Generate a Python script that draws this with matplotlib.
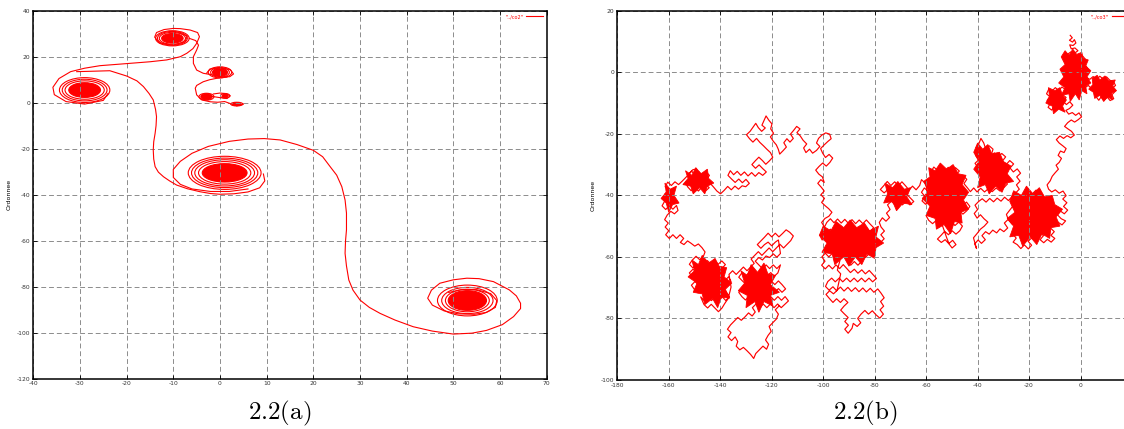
import matplotlib
matplotlib.use('Agg')
import matplotlib.pyplot as plt
from matplotlib.patches import Ellipse

plt.rcParams['mathtext.fontset'] = 'cm'
plt.rcParams['axes.unicode_minus'] = False

# ---- panel (a): vortex trajectories ----
vortex_x = [-29, -10.2, 0, -2.9, 1.1, 3.6, 1, 53]
vortex_y = [5.5, 28, 13.2, 2.6, 3.0, -0.6, -30.5, -86]
core_rx = [3.4, 2.3, 1.6, 1.2, 0.6, 0.9, 4.8, 4.1]
core_ry = [3.2, 2.1, 1.8, 1.3, 0.8, 0.6, 4.0, 4.3]
ring_rx = [[4.2, 4.8, 5.4], [2.8, 3.2, 3.6], [2.0, 2.5], [1.6], [1.0], [1.3],
           [5.6, 6.4, 7.1, 7.8], [4.7, 5.5, 6.4]]
ring_ry = [[4.0, 4.7, 5.4], [2.6, 3.0, 3.3], [2.1, 2.4], [1.5], [1.0], [0.8],
           [4.9, 5.7, 6.4, 7.2], [4.9, 5.7, 6.7]]

path_ab = [(-24, 4), (-25, 1), (-29, -0.6), (-33, 0.5), (-35.5, 3.5), (-35.8, 6.7),
           (-34.5, 10.5), (-32, 13.5), (-29, 15), (-25.7, 16.1), (-20, 17), (-15, 17.8),
           (-11.4, 18.6), (-8.5, 20), (-7.1, 21.5), (-5.8, 23.5), (-5, 25.8), (-4.4, 28.7),
           (-4.8, 30.5), (-6.4, 31.6), (-8.5, 32.2), (-10, 32.3), (-12, 31.8), (-13.6, 30.5),
           (-14, 28.5), (-13, 26), (-10, 25), (-7.5, 26.5), (-7, 29), (-9, 30.5)]
path_bc = [(-6.6, 28), (-5.2, 27), (-4.6, 25), (-5, 22.9), (-5.7, 20), (-5.7, 17.1),
           (-5, 14.2), (-3.6, 12.8), (-1.4, 12), (0.5, 11.2), (2.1, 11.3), (2.9, 12.5),
           (2.2, 14.4), (0, 15.2), (-2.2, 14.6), (-2.8, 13)]
path_cd = [(1.5, 11.2), (-0.7, 10.6), (-2.2, 10), (-3.6, 9.1), (-5, 7.5), (-5.3, 6.3),
           (-5, 3.4), (-3.9, 1.2), (-2.1, 0.4), (-0.5, 0.2), (1, 0.5), (2.5, -0.6), (3.6, -1.4),
           (5, -0.6)]
path_de = [(-1.4, 3.8), (0, 4.2), (1.1, 4), (2.2, 3), (1.5, 1.8), (0, 2.2), (-1.6, 2.7)]
path_af = [(-30.7, 13.5), (-27, 13.7), (-23.6, 13.9), (-20, 11.6), (-17.8, 9.5), (-16.4, 7),
           (-15.2, 4), (-14.3, 1.2), (-13.8, -3), (-13.6, -6.1), (-13.7, -10), (-13.9, -13.3),
           (-14.2, -17), (-14.3, -20.6), (-14.2, -24.5), (-13.9, -27.8), (-13.2, -30.2),
           (-12.1, -32.2), (-10.8, -34), (-9.3, -35.8), (-7, -37.4), (-4.3, -38.7), (-2, -39.5),
           (0, -39.8), (3, -39.6), (6, -38.8), (8.5, -37), (9.6, -34), (9.3, -31)]
path_fg = [(6, -37.5), (2, -38.6), (-2, -38.6), (-6, -37.5), (-8.5, -35.5), (-10, -32.5),
           (-10, -29), (-8.5, -25.5), (-6, -22), (-2.5, -19), (2, -16.8), (6, -15.8),
           (9.5, -15.6), (12.9, -16.2), (16.5, -18.2), (20, -20.7), (22, -23.5), (23.6, -27.8),
           (25, -31.5), (26.1, -36.5), (26.8, -42.3), (27.1, -48), (27.1, -55.3), (26.9, -60),
           (26.8, -65.5), (27.1, -71), (27.6, -77.1), (28.5, -81.5), (30, -85.8), (32, -89),
           (34.3, -91.6), (37.5, -94.5), (41.4, -97.4), (45.5, -99.3), (50, -100.6),
           (54, -100.2), (57.1, -99), (60.5, -96.5), (62.9, -93), (64.4, -89.5), (64.4, -87.2),
           (63.5, -84), (62, -81.4), (58.6, -77.8), (55.5, -76.5), (52.9, -76.3), (50, -77),
           (47.1, -78.5), (45.3, -81.5), (44.5, -85), (45.5, -88), (48, -90.5), (51, -91.8),
           (54.5, -92), (57, -91.2), (59, -89), (59.3, -86), (58, -83), (55, -81.3),
           (52, -81.2), (49, -82.5)]

# ---- panel (b): random walk, traced piece by piece ----
walk_a = [(-4.0, 12.0), (-3.2, 11.2), (-4.3, 10.4), (-3.1, 9.8), (-2.4, 10.6), (-1.8, 9.5),
          (-2.9, 8.7), (-4.2, 8.9), (-3.6, 7.6), (-2.2, 7.9), (-1.0, 7.0), (-2.3, 6.2),
          (-3.8, 6.6), (-5.1, 5.8), (-4.0, 4.9), (-5.5, 4.0), (-4.4, 3.1), (-3.0, 4.0),
          (-1.8, 5.2), (-0.6, 4.4), (0.8, 5.3), (1.9, 4.2), (0.7, 3.3), (-0.5, 2.5), (-1.9, 3.2),
          (-3.1, 2.1), (-2.0, 1.0), (-0.6, 1.6), (0.9, 1.0), (2.2, 2.0), (3.0, 0.8), (1.8, -0.3),
          (0.4, 0.2), (-1.1, -0.5), (-2.6, 0.1), (-4.0, -0.8), (-5.4, 0.3), (-6.3, -1.0),
          (-5.0, -2.1), (-3.5, -1.6), (-2.2, -2.7), (-0.7, -1.8), (0.8, -2.8), (2.1, -1.6),
          (3.6, -2.3), (4.9, -1.4), (6.2, -2.4), (7.5, -1.3), (8.8, -2.2), (10.1, -1.5),
          (11.4, -2.6), (12.8, -3.0), (13.6, -4.3), (12.4, -5.1), (13.5, -6.2), (12.2, -7.3),
          (12.9, -8.6), (11.5, -9.2), (10.4, -8.1), (9.2, -9.0), (8.0, -8.0), (7.1, -9.1),
          (6.0, -7.9), (7.3, -6.8), (8.6, -7.3), (9.8, -6.2), (11.0, -6.9), (11.8, -5.6),
          (10.5, -4.7), (9.2, -5.3), (8.0, -4.2), (6.7, -5.1), (5.4, -4.1), (4.2, -5.2),
          (3.0, -4.3), (1.7, -5.0), (0.5, -4.0), (-0.8, -5.1), (-2.0, -4.2), (-3.3, -5.3),
          (-4.6, -4.5), (-5.9, -5.6), (-7.2, -4.8), (-8.5, -5.9), (-9.8, -5.0), (-11.1, -6.1),
          (-12.4, -5.6), (-13.2, -7.0), (-12.0, -7.9), (-13.0, -9.2), (-11.7, -10.0),
          (-12.6, -11.4), (-11.2, -12.3), (-10.1, -11.0), (-9.0, -12.1), (-8.0, -10.8),
          (-9.3, -9.6), (-10.6, -8.7), (-9.4, -7.6), (-8.1, -8.4), (-6.9, -7.3), (-5.6, -8.2),
          (-6.8, -9.4), (-5.5, -10.5), (-4.2, -9.6), (-3.0, -10.7), (-4.3, -11.8), (-5.7, -12.4),
          (-4.6, -13.6), (-3.2, -13.1), (-1.9, -14.0), (-0.6, -13.2), (0.4, -14.5), (-0.9, -15.4),
          (-2.3, -16.2), (-3.6, -15.5), (-5.0, -16.4), (-6.2, -17.6), (-4.9, -18.4),
          (-3.5, -19.2), (-2.4, -20.4), (-3.8, -21.3), (-5.2, -20.6), (-6.6, -21.5),
          (-8.0, -20.7), (-9.4, -21.9), (-8.3, -23.0), (-6.9, -23.9), (-5.6, -24.8),
          (-6.4, -26.1), (-7.8, -25.6), (-8.7, -27.0), (-7.4, -28.0), (-8.3, -29.3),
          (-9.5, -30.2), (-8.6, -31.5), (-9.8, -32.6), (-11.0, -33.8), (-11.8, -35.3),
          (-13.0, -36.6), (-12.4, -38.0)]
walk_b = [(-11.2, -38.9), (-9.8, -38.2), (-8.3, -39.3), (-6.8, -38.6), (-5.6, -40.1),
          (-6.9, -41.2), (-5.3, -42.4), (-6.6, -43.6), (-5.0, -44.8), (-6.3, -46.0),
          (-7.8, -45.1), (-9.0, -46.3), (-7.5, -47.6), (-5.8, -48.3), (-7.2, -49.6),
          (-8.8, -48.7), (-10.2, -49.8), (-11.5, -48.3), (-12.9, -49.6), (-14.2, -48.4),
          (-13.1, -47.0), (-11.6, -46.2), (-10.4, -44.8), (-11.9, -43.7), (-13.4, -44.6),
          (-14.9, -43.4), (-16.3, -44.7), (-15.1, -46.0), (-16.6, -47.2), (-18.0, -46.1),
          (-19.4, -47.4), (-20.9, -46.3), (-19.7, -44.9), (-21.2, -43.8), (-22.6, -44.9),
          (-24.0, -43.7), (-25.3, -45.0), (-23.9, -46.3), (-25.2, -47.6), (-26.7, -46.8),
          (-27.9, -48.1), (-26.5, -49.4), (-24.9, -48.9), (-23.5, -50.1), (-22.1, -49.0),
          (-20.6, -50.2), (-21.9, -51.5), (-23.4, -52.4), (-24.8, -51.4), (-26.3, -52.6),
          (-25.0, -53.9), (-26.2, -55.2), (-24.6, -56.0), (-23.2, -57.3), (-21.8, -56.1),
          (-20.3, -57.4), (-19.0, -56.2), (-20.4, -54.9), (-18.9, -53.8), (-17.4, -54.9),
          (-16.1, -53.6), (-17.5, -52.4), (-19.0, -51.4), (-17.6, -50.2), (-16.1, -51.1),
          (-14.6, -50.2), (-13.2, -51.4), (-11.7, -50.6), (-10.2, -51.8), (-11.5, -53.0),
          (-10.0, -54.0), (-11.4, -55.2), (-12.9, -54.3), (-14.3, -55.4), (-15.7, -54.4),
          (-14.4, -53.1), (-15.8, -52.0), (-17.2, -48.8), (-18.7, -49.7), (-20.0, -48.4),
          (-21.5, -47.7), (-22.9, -46.6), (-21.6, -45.3), (-20.2, -42.9), (-18.7, -43.9),
          (-17.3, -42.6), (-15.8, -41.6), (-14.4, -40.3), (-15.8, -39.2), (-17.3, -38.3),
          (-18.7, -39.5), (-20.1, -38.6), (-21.6, -39.8), (-20.3, -41.1), (-22.0, -42.0),
          (-23.5, -41.1), (-24.8, -42.4), (-26.3, -43.5), (-27.5, -44.8), (-28.8, -46.2),
          (-28.1, -47.8), (-29.6, -49.0), (-28.3, -50.6), (-29.8, -51.8), (-31.3, -50.9),
          (-32.6, -52.2), (-34.1, -51.3), (-35.5, -52.6), (-36.9, -51.8), (-38.3, -53.1),
          (-37.0, -54.4), (-38.5, -55.6), (-39.8, -54.5), (-41.1, -55.8), (-40.4, -57.3),
          (-41.6, -53.8), (-40.2, -52.4), (-38.9, -51.0), (-37.4, -50.0), (-36.0, -48.7),
          (-37.5, -47.6), (-38.9, -46.3), (-40.2, -47.4), (-41.3, -45.9), (-40.0, -44.6),
          (-41.0, -43.2)]
walk_c = [(-39.6, -42.0), (-38.2, -41.1), (-36.7, -42.2), (-35.3, -41.0), (-33.8, -42.1),
          (-32.4, -40.9), (-30.9, -41.9), (-29.5, -40.6), (-28.0, -41.7), (-26.6, -40.4),
          (-25.2, -39.2), (-23.8, -38.0), (-24.9, -36.6), (-23.5, -35.4), (-24.8, -34.0),
          (-23.3, -32.8), (-24.6, -31.4), (-26.1, -32.4), (-27.4, -31.1), (-26.0, -29.8),
          (-27.5, -28.7), (-28.9, -30.0), (-30.4, -28.9), (-29.1, -27.5), (-30.6, -26.4),
          (-32.1, -27.5), (-33.5, -26.2), (-34.9, -27.4), (-34.0, -25.0), (-35.5, -23.9),
          (-36.9, -24.8), (-37.6, -23.0), (-38.7, -21.5), (-39.5, -23.2), (-40.6, -24.5),
          (-39.4, -25.9), (-40.8, -27.0), (-39.5, -28.4), (-41.0, -29.6), (-39.7, -31.0),
          (-38.2, -29.9), (-36.8, -30.9), (-35.3, -29.7), (-33.8, -30.8), (-32.4, -29.6),
          (-31.0, -31.0), (-32.5, -32.2), (-34.0, -33.3), (-35.5, -32.2), (-37.0, -33.4),
          (-38.5, -34.6), (-37.1, -35.8), (-35.6, -34.8), (-34.2, -36.0), (-32.7, -35.0),
          (-31.2, -36.2), (-29.8, -35.0), (-28.4, -36.3), (-29.8, -37.5), (-31.3, -38.6),
          (-32.8, -37.6), (-34.3, -38.8), (-35.8, -37.8), (-37.3, -38.9), (-38.8, -37.7),
          (-40.2, -38.9), (-41.5, -37.6), (-42.8, -38.8), (-44.0, -37.5)]
walk_d = [(-45.3, -36.2), (-44.2, -34.8), (-45.6, -33.6), (-47.0, -34.7), (-48.4, -33.4),
          (-47.1, -32.1), (-48.6, -31.0), (-50.0, -32.2), (-51.4, -30.9), (-52.8, -32.0),
          (-54.2, -30.7), (-55.6, -31.9), (-57.0, -30.8), (-58.1, -32.3), (-56.7, -33.5),
          (-55.2, -34.4), (-53.8, -33.3), (-52.4, -34.6), (-50.9, -33.6), (-49.5, -35.0),
          (-48.0, -36.1), (-46.6, -37.3), (-48.0, -38.5), (-49.5, -37.4), (-50.9, -38.6),
          (-52.3, -37.3), (-53.7, -38.5), (-55.2, -37.3), (-56.6, -38.5), (-58.0, -37.2),
          (-59.3, -38.6), (-60.7, -37.6), (-61.8, -39.0), (-60.5, -40.3), (-61.6, -41.8),
          (-60.2, -42.9), (-58.8, -41.7), (-57.4, -42.9), (-55.9, -41.8), (-54.5, -43.0),
          (-53.0, -41.8), (-51.6, -43.1), (-50.1, -41.9), (-48.7, -43.2), (-47.2, -42.0),
          (-45.8, -43.3), (-44.3, -42.2), (-43.0, -43.6), (-44.2, -45.0), (-45.7, -46.1),
          (-47.1, -45.0), (-48.6, -46.3), (-50.0, -45.1), (-51.5, -46.4), (-52.9, -45.2),
          (-54.4, -46.4), (-55.8, -45.2), (-57.3, -46.4), (-58.7, -45.3), (-60.0, -46.6),
          (-59.0, -48.1), (-57.5, -49.2), (-56.0, -48.1), (-54.6, -49.4), (-53.1, -48.3),
          (-51.7, -49.6), (-50.2, -48.5), (-48.8, -49.8), (-47.3, -48.7), (-45.9, -50.0),
          (-46.9, -51.5), (-48.4, -52.6), (-49.9, -51.5), (-51.3, -52.8), (-52.8, -51.7),
          (-54.2, -53.0), (-55.6, -54.2), (-54.1, -55.3), (-52.6, -54.4), (-51.2, -55.7),
          (-49.7, -54.6), (-48.4, -56.0), (-49.9, -57.1), (-51.0, -55.9), (-52.0, -53.8),
          (-53.5, -50.2), (-55.4, -47.0), (-57.1, -44.1), (-58.9, -40.4), (-60.3, -36.1),
          (-61.8, -34.9), (-62.5, -36.8)]
walk_e = [(-63.9, -38.2), (-65.3, -37.0), (-66.6, -38.3), (-68.0, -36.9), (-69.4, -35.6),
          (-70.8, -36.9), (-72.2, -35.6), (-73.7, -36.8), (-75.1, -35.5), (-76.4, -36.8),
          (-77.8, -38.1), (-76.3, -39.2), (-74.9, -38.1), (-73.4, -39.4), (-72.0, -38.2),
          (-70.5, -39.5), (-69.1, -38.4), (-67.6, -39.6), (-66.2, -40.8), (-64.8, -42.0),
          (-66.3, -43.1), (-67.7, -41.9), (-69.2, -43.1), (-70.6, -41.9), (-72.1, -43.1),
          (-73.5, -41.9), (-75.0, -43.1), (-74.0, -44.6), (-75.4, -45.8), (-74.2, -47.2),
          (-75.6, -48.4), (-77.0, -47.3), (-78.2, -48.8)]
walk_f = [(-77.5, -50.3), (-76.2, -51.6), (-77.6, -52.8), (-76.3, -54.1), (-77.7, -55.3),
          (-79.1, -54.1), (-80.6, -55.2), (-79.3, -56.5), (-80.7, -57.7), (-82.1, -56.5),
          (-83.5, -57.7), (-82.2, -59.0), (-83.6, -60.2), (-85.0, -59.0), (-86.4, -60.2),
          (-85.1, -61.5), (-86.5, -62.7), (-87.9, -61.5), (-89.3, -62.7), (-90.7, -61.4),
          (-89.4, -60.1), (-90.8, -58.9), (-92.2, -60.0), (-93.6, -58.8), (-95.0, -60.0),
          (-96.4, -58.8), (-97.8, -60.0), (-99.2, -58.8), (-100.5, -60.0), (-99.3, -61.4),
          (-100.6, -62.7), (-99.2, -63.9), (-97.8, -62.7), (-96.4, -63.9), (-95.0, -62.6),
          (-93.6, -63.8), (-92.2, -62.5),
          (-90.8, -63.8), (-89.4, -65.1), (-87.9, -64.0), (-86.5, -65.3), (-85.0, -64.2),
          (-83.6, -65.5), (-82.1, -64.4), (-80.7, -65.7), (-79.3, -67.0), (-80.8, -68.1),
          (-82.2, -66.9), (-83.7, -68.1), (-85.1, -66.9), (-86.6, -68.1), (-88.0, -66.9),
          (-89.5, -68.1), (-90.9, -66.9), (-92.4, -68.1), (-93.8, -66.9), (-95.3, -68.1),
          (-96.7, -66.9), (-98.2, -68.0), (-99.1, -69.6), (-97.7, -70.8), (-96.2, -69.7),
          (-94.8, -71.0), (-93.3, -69.8), (-91.9, -71.1), (-90.4, -69.9), (-89.0, -71.2),
          (-87.5, -70.0), (-86.1, -71.3), (-84.6, -70.1), (-83.2, -71.4), (-81.7, -70.2),
          (-80.3, -71.5), (-78.8, -70.4), (-77.5, -71.8), (-76.3, -73.3), (-77.7, -74.5),
          (-76.5, -76.0), (-77.9, -77.2), (-76.6, -78.6), (-78.0, -79.9), (-79.5, -78.8),
          (-80.9, -77.5), (-82.4, -78.6), (-83.8, -77.4), (-85.3, -78.6), (-86.6, -80.0),
          (-85.4, -81.4), (-86.8, -82.6), (-88.3, -81.6), (-88.8, -83.2), (-90.3, -84.8),
          (-91.6, -83.5), (-90.2, -82.2), (-91.6, -81.0), (-90.3, -79.7), (-91.8, -78.5),
          (-93.2, -77.3), (-91.9, -76.0), (-90.4, -74.8), (-91.9, -73.6), (-93.3, -74.8),
          (-94.8, -73.6), (-96.2, -74.8), (-97.6, -73.5), (-98.9, -72.2), (-97.5, -71.0),
          (-96.0, -72.0), (-94.6, -70.9), (-93.2, -65.5), (-94.5, -64.3), (-93.5, -61.2),
          (-94.8, -57.2), (-93.4, -56.0), (-92.0, -57.2), (-90.6, -56.0), (-89.2, -57.2),
          (-87.8, -56.0), (-86.4, -57.3), (-85.0, -55.9), (-83.6, -54.7), (-85.0, -53.5),
          (-86.4, -54.7), (-87.8, -53.4), (-89.2, -54.6), (-90.6, -53.4), (-92.0, -54.6),
          (-93.4, -53.4), (-94.8, -54.6), (-96.2, -53.4), (-97.6, -54.6), (-99.0, -53.3),
          (-100.4, -54.5), (-101.3, -53.0), (-100.0, -51.8), (-98.6, -52.1), (-97.2, -51.0),
          (-95.8, -52.1), (-94.4, -50.9), (-93.0, -52.0), (-91.6, -50.8), (-90.2, -51.9),
          (-88.8, -50.7), (-87.4, -51.9), (-86.0, -50.6), (-84.6, -51.8), (-83.2, -50.6),
          (-81.8, -51.8), (-80.4, -50.5), (-81.8, -49.3), (-83.2, -48.0), (-84.6, -49.2),
          (-86.0, -48.0), (-87.4, -49.2), (-88.8, -47.9), (-90.2, -49.1), (-91.6, -47.8),
          (-93.0, -49.0), (-94.4, -47.7), (-95.8, -48.9), (-97.2, -47.6), (-98.6, -48.8),
          (-99.5, -50.3)]
walk_g = [(-100.6, -48.8), (-99.3, -47.5), (-97.8, -46.8), (-96.6, -45.5), (-97.9, -44.3),
          (-99.2, -43.4), (-100.6, -42.3), (-99.5, -41.0), (-100.9, -39.8), (-99.6, -38.6),
          (-100.8, -37.3), (-102.1, -36.1), (-100.9, -34.9), (-99.6, -35.8), (-100.3, -34.0),
          (-101.7, -33.1), (-102.9, -31.8), (-101.6, -30.6), (-100.2, -29.5), (-98.8, -30.5),
          (-97.4, -29.3), (-96.3, -27.9), (-97.7, -26.7), (-99.1, -27.7), (-100.2, -26.3),
          (-101.0, -24.8), (-99.6, -23.6), (-98.2, -22.5), (-96.9, -21.6), (-97.5, -20.1),
          (-99.0, -19.7), (-100.5, -20.4), (-101.8, -21.5), (-102.6, -23.0), (-101.3, -24.1),
          (-102.6, -25.4), (-104.1, -26.3), (-105.3, -25.0), (-106.7, -26.1), (-107.6, -24.6),
          (-106.4, -23.3), (-107.8, -22.1), (-108.9, -20.7), (-110.2, -19.6), (-109.0, -18.4)]
walk_h = [(-110.3, -17.6), (-111.5, -18.9), (-112.7, -20.1), (-111.6, -21.5), (-112.9, -22.7),
          (-114.1, -21.6), (-115.3, -22.9), (-114.3, -24.3), (-115.6, -25.5), (-116.9, -26.6),
          (-117.4, -25.1), (-118.2, -23.6), (-119.4, -22.4), (-120.5, -21.0), (-119.3, -19.8),
          (-120.4, -18.4), (-119.9, -16.8), (-121.1, -15.6), (-122.2, -14.2), (-123.0, -15.7),
          (-123.8, -17.2), (-122.5, -18.1), (-123.9, -19.2), (-125.2, -18.0), (-126.2, -16.6),
          (-127.3, -17.9), (-128.4, -19.2), (-129.8, -20.3), (-128.6, -21.6), (-127.3, -22.7),
          (-125.9, -21.5), (-124.6, -22.8), (-123.2, -23.9), (-121.9, -25.0), (-120.5, -26.1),
          (-119.6, -27.6), (-120.9, -28.8), (-122.3, -29.9), (-123.6, -28.7), (-125.0, -27.6),
          (-126.4, -28.8), (-127.7, -30.0), (-126.3, -31.2), (-124.9, -30.1), (-123.5, -31.3),
          (-122.1, -32.4), (-123.5, -33.5), (-125.0, -32.6), (-126.4, -33.8), (-127.8, -32.6),
          (-129.2, -33.7), (-130.6, -32.4), (-132.0, -33.5), (-133.4, -32.2), (-134.8, -33.3),
          (-136.1, -32.0), (-137.0, -33.5), (-135.6, -34.7), (-134.2, -35.8), (-132.8, -34.7),
          (-131.4, -35.9), (-130.0, -34.8), (-128.7, -36.1), (-130.1, -37.2), (-131.5, -36.9),
          (-132.9, -38.0), (-134.3, -37.0), (-135.7, -38.2), (-137.1, -37.1), (-138.5, -38.4),
          (-139.9, -39.5), (-141.3, -38.6), (-142.6, -37.3)]
walk_j = [(-143.9, -36.1), (-145.3, -34.9), (-144.2, -33.5), (-145.6, -32.3), (-147.0, -33.5),
          (-148.4, -32.2), (-149.8, -33.4), (-151.2, -32.1), (-152.6, -33.3), (-151.3, -34.6),
          (-149.9, -35.4), (-148.5, -34.3), (-147.1, -35.5), (-145.7, -36.4), (-144.3, -37.5),
          (-145.7, -38.6), (-147.1, -37.4), (-148.5, -38.6), (-149.9, -37.3), (-151.3, -38.5),
          (-152.7, -37.2), (-153.5, -35.7), (-152.1, -36.0), (-150.7, -36.2), (-149.3, -36.0),
          (-147.9, -36.8), (-146.5, -35.1), (-147.9, -33.9), (-149.3, -31.4), (-150.7, -31.7),
          (-152.0, -33.0), (-153.4, -34.2), (-154.8, -35.4), (-156.2, -36.5), (-157.6, -35.6),
          (-159.0, -36.8), (-160.4, -35.7), (-161.4, -37.2), (-160.0, -38.4), (-161.5, -39.5),
          (-160.1, -40.7), (-161.6, -41.9), (-162.6, -43.4), (-161.2, -44.6), (-159.8, -43.4),
          (-158.4, -44.5), (-157.0, -43.3), (-156.4, -44.9), (-157.8, -46.0), (-159.2, -45.2),
          (-160.6, -46.4), (-161.6, -47.9), (-160.2, -49.0), (-161.4, -50.3), (-160.0, -51.5),
          (-161.2, -52.8), (-159.8, -54.0), (-158.4, -52.8), (-157.0, -54.0), (-155.6, -52.8),
          (-154.2, -54.0), (-155.5, -55.3), (-154.1, -56.0), (-152.7, -54.8), (-151.3, -55.6),
          (-149.9, -56.5), (-148.5, -55.8), (-147.1, -57.0), (-145.9, -58.4), (-146.6, -59.9)]
walk_l = [(-148.0, -60.9), (-149.4, -59.8), (-150.8, -61.0), (-152.0, -62.4), (-150.6, -63.6),
          (-149.2, -62.4), (-147.8, -63.6), (-146.4, -62.4), (-145.0, -61.2), (-143.6, -62.4),
          (-142.2, -61.2), (-140.8, -62.4), (-139.4, -61.3), (-138.0, -62.5), (-139.4, -63.8),
          (-140.8, -64.9), (-142.2, -63.8), (-143.6, -65.0), (-145.0, -63.8), (-146.4, -65.0),
          (-147.8, -63.9), (-149.2, -65.1), (-150.6, -64.0), (-152.0, -65.2), (-150.8, -66.6),
          (-149.4, -67.7), (-148.0, -66.5), (-146.6, -67.7), (-145.2, -66.5), (-143.8, -67.7),
          (-142.4, -66.5), (-141.0, -67.7), (-139.6, -66.5), (-138.2, -67.7), (-136.8, -66.5),
          (-135.8, -68.0), (-137.2, -69.2), (-138.6, -68.0), (-140.0, -69.2), (-141.4, -68.0),
          (-142.8, -69.2), (-144.2, -68.0), (-145.6, -69.2), (-147.0, -68.0), (-148.4, -69.2),
          (-149.8, -68.0), (-151.2, -69.2), (-150.0, -70.6), (-148.6, -71.7), (-147.2, -70.5),
          (-145.8, -71.7), (-144.4, -70.5), (-143.0, -71.7), (-141.6, -70.5), (-140.2, -71.7),
          (-138.8, -70.5), (-137.4, -71.7), (-136.4, -73.1), (-137.8, -74.2), (-139.2, -73.0),
          (-140.6, -74.2), (-142.0, -73.0), (-143.4, -74.2), (-144.8, -73.0), (-146.2, -74.2),
          (-147.6, -73.0), (-146.3, -75.5), (-144.9, -76.6), (-143.5, -75.4), (-142.1, -76.6),
          (-140.7, -77.8), (-139.3, -76.6), (-138.3, -75.2), (-137.0, -73.6), (-136.2, -71.2),
          (-135.8, -69.8), (-136.6, -65.7), (-135.2, -64.5), (-133.8, -65.7), (-132.4, -64.5),
          (-131.0, -63.3), (-129.6, -64.5), (-128.2, -63.3), (-126.8, -62.1), (-128.0, -60.7),
          (-126.6, -59.5), (-125.2, -58.3), (-123.8, -59.5), (-122.4, -58.3), (-121.0, -57.1),
          (-119.6, -58.3), (-118.2, -57.1), (-116.8, -55.9), (-115.4, -57.1), (-114.0, -55.9),
          (-112.6, -54.7), (-111.6, -53.2), (-113.0, -52.0), (-114.4, -51.2), (-115.8, -52.4),
          (-117.2, -53.5), (-118.6, -52.3), (-120.0, -53.5), (-121.4, -52.3), (-122.8, -53.6),
          (-124.2, -54.8), (-125.6, -56.0), (-124.2, -57.2), (-122.8, -56.0), (-121.4, -55.2)]
walk_m = [(-120.0, -56.4), (-118.6, -55.2), (-117.4, -54.5), (-116.6, -58.9), (-118.0, -60.1),
          (-119.4, -59.0), (-120.8, -60.2), (-122.2, -59.7), (-123.6, -61.0), (-125.0, -60.2),
          (-126.4, -61.4), (-125.0, -62.6), (-123.6, -63.8), (-122.2, -62.6), (-120.8, -63.8),
          (-119.4, -62.6), (-118.0, -63.8), (-116.6, -62.6), (-117.6, -65.2), (-119.0, -66.3),
          (-120.4, -65.1), (-121.8, -66.3), (-123.2, -65.1), (-124.6, -66.3), (-126.0, -65.1),
          (-127.4, -66.3), (-128.8, -65.1), (-130.2, -66.3), (-131.6, -65.2), (-132.8, -66.6),
          (-131.4, -67.8), (-130.0, -68.9), (-128.6, -67.8), (-127.2, -69.0), (-125.8, -67.8),
          (-124.4, -69.0), (-123.0, -67.8), (-121.6, -69.0), (-120.2, -67.8), (-118.8, -69.0),
          (-117.4, -67.8), (-116.0, -69.0), (-114.6, -70.4), (-116.0, -71.5), (-117.4, -70.3),
          (-118.8, -71.5), (-120.2, -70.3), (-121.6, -71.5), (-123.0, -70.3), (-124.4, -71.5),
          (-125.8, -70.3), (-127.2, -71.5), (-128.6, -70.3), (-130.0, -71.5), (-131.4, -70.3),
          (-132.8, -71.5), (-131.6, -72.9), (-130.2, -74.0), (-128.8, -72.9), (-127.4, -74.1),
          (-126.0, -72.9), (-124.6, -74.1), (-123.2, -72.9), (-121.8, -74.1), (-120.4, -72.9),
          (-119.0, -74.1), (-117.6, -72.9), (-116.2, -74.1), (-114.8, -72.9), (-113.5, -74.3),
          (-114.9, -75.4), (-116.3, -76.5), (-117.7, -75.3), (-119.1, -76.5), (-120.5, -75.3),
          (-121.9, -76.5), (-123.3, -75.3), (-124.7, -76.5), (-126.1, -75.3), (-127.5, -76.5),
          (-126.4, -77.9), (-127.6, -79.2), (-129.0, -78.2), (-130.4, -79.5), (-131.8, -80.6),
          (-133.2, -79.7), (-134.6, -80.9), (-136.0, -82.1), (-137.2, -83.5), (-135.8, -84.6),
          (-137.0, -86.0), (-135.6, -87.2), (-134.2, -86.0), (-133.2, -87.5), (-133.8, -89.0),
          (-132.4, -90.2), (-131.0, -89.4), (-129.6, -90.5), (-128.2, -91.7), (-127.0, -93.0),
          (-126.2, -91.4), (-124.8, -90.2), (-123.4, -89.0), (-122.0, -90.0), (-121.2, -88.4),
          (-122.4, -87.0), (-121.4, -85.5), (-120.2, -84.2), (-121.0, -82.6), (-119.6, -81.4),
          (-118.2, -80.2), (-117.4, -78.6), (-118.6, -77.2), (-117.2, -76.0)]

# outlines of the densest (solid-looking) tangles of the walk
dense_tr = [(-6.0, 7.0), (-4.5, 5.5), (-3.0, 7.5), (-1.5, 5.8), (0.5, 6.5), (1.0, 4.5),
            (3.0, 4.0), (2.0, 2.0), (4.0, 0.5), (2.5, -1.5), (4.0, -3.5), (2.0, -4.5),
            (2.5, -7.0), (0.5, -6.0), (-0.5, -9.0), (-2.0, -7.0), (-4.0, -9.5), (-4.5, -7.0),
            (-7.5, -7.5), (-6.0, -5.0), (-8.5, -3.5), (-6.5, -1.5), (-8.0, 1.0), (-6.0, 2.5),
            (-7.5, 5.0)]
dense_tr2 = [(4.5, -2.0), (6.5, -1.0), (7.5, -2.5), (9.5, -1.2), (11.0, -2.8), (13.5, -2.5),
             (12.5, -4.5), (14.0, -6.0), (12.0, -6.8), (12.5, -9.0), (10.5, -8.0), (9.0, -9.5),
             (7.5, -7.5), (5.5, -8.5), (5.0, -6.5), (3.2, -5.5), (4.8, -4.0)]
dense_tr3 = [(-12.5, -5.0), (-10.0, -6.0), (-8.0, -5.0), (-7.0, -7.5), (-5.5, -9.0),
             (-7.0, -11.0), (-6.0, -13.0), (-8.5, -12.0), (-10.5, -13.5), (-11.0, -11.0),
             (-13.5, -10.0), (-12.0, -8.0)]
dense_br = [(-26.0, -38.5), (-23.0, -40.0), (-21.0, -37.0), (-18.5, -39.5), (-16.0, -37.5),
            (-14.0, -40.5), (-11.0, -40.0), (-10.0, -43.0), (-7.0, -44.5), (-9.5, -47.0),
            (-8.0, -50.0), (-11.5, -50.5), (-12.0, -54.0), (-15.0, -52.5), (-17.0, -56.0),
            (-19.5, -53.5), (-22.5, -56.5), (-24.0, -53.0), (-27.5, -53.5), (-26.0, -50.0),
            (-28.5, -47.5), (-25.5, -45.5), (-27.5, -42.0)]
dense_lb = [(-40.0, -23.0), (-38.0, -25.0), (-36.0, -23.5), (-34.5, -26.5), (-31.5, -26.0),
            (-30.0, -29.0), (-27.0, -30.5), (-28.5, -33.0), (-26.0, -35.5), (-29.0, -36.0),
            (-30.5, -39.0), (-33.0, -37.0), (-35.5, -39.5), (-37.0, -36.5), (-40.0, -37.5),
            (-39.0, -34.0), (-41.5, -31.5), (-39.5, -29.0), (-41.5, -26.0)]
dense_55 = [(-59.0, -31.0), (-56.5, -32.0), (-54.5, -29.5), (-52.0, -31.5), (-49.5, -30.0),
            (-47.5, -33.0), (-44.5, -33.5), (-46.0, -36.5), (-43.5, -39.0), (-45.5, -41.5),
            (-43.5, -44.5), (-46.5, -45.5), (-46.0, -49.0), (-49.0, -48.5), (-50.5, -52.5),
            (-53.0, -49.5), (-56.0, -51.0), (-56.5, -47.5), (-60.0, -46.5), (-58.5, -43.5),
            (-61.5, -41.0), (-59.0, -38.5), (-61.0, -35.5), (-58.5, -34.0)]
dense_70 = [(-76.0, -36.0), (-73.0, -37.5), (-71.0, -35.5), (-68.5, -38.0), (-66.0, -37.5),
            (-67.5, -40.5), (-65.5, -43.0), (-69.0, -42.5), (-71.5, -45.0), (-73.0, -42.0),
            (-76.5, -42.5), (-75.0, -39.5)]
dense_88 = [(-100.0, -50.0), (-97.0, -51.5), (-95.0, -48.5), (-92.0, -50.5), (-89.5, -48.0),
            (-87.0, -50.5), (-84.0, -49.0), (-82.0, -51.5), (-78.5, -50.0), (-79.5, -53.5),
            (-76.5, -55.5), (-79.5, -57.0), (-80.0, -60.5), (-83.0, -59.0), (-85.0, -62.5),
            (-87.5, -60.0), (-90.0, -63.0), (-92.0, -60.0), (-95.5, -62.5), (-96.5, -59.0),
            (-100.5, -58.5), (-98.5, -55.5), (-101.5, -53.0)]
dense_143 = [(-151.0, -61.0), (-148.5, -62.5), (-147.0, -59.5), (-144.5, -62.0), (-142.0, -60.5),
             (-140.5, -63.0), (-137.5, -63.5), (-138.5, -66.5), (-135.5, -68.5), (-138.0, -70.5),
             (-136.5, -73.5), (-139.5, -73.0), (-141.0, -76.5), (-143.0, -73.5), (-146.0, -75.5),
             (-147.0, -72.0), (-150.5, -71.5), (-149.0, -68.5), (-152.5, -66.5), (-150.0, -64.5)]
dense_125 = [(-132.0, -64.5), (-129.5, -66.0), (-128.0, -62.5), (-125.5, -65.0), (-123.0, -62.0),
             (-121.5, -65.5), (-118.5, -66.0), (-120.5, -69.0), (-117.0, -71.5), (-120.5, -72.5),
             (-119.5, -76.0), (-123.0, -74.5), (-125.0, -78.0), (-126.5, -74.5), (-130.0, -76.5),
             (-129.5, -72.5), (-133.0, -71.0), (-130.5, -68.5)]
dense_148 = [(-153.5, -32.0), (-151.0, -33.5), (-149.5, -31.0), (-147.5, -33.0), (-145.0, -31.5),
             (-144.5, -34.5), (-142.5, -36.0), (-145.0, -37.0), (-146.0, -39.5), (-148.0, -37.5),
             (-150.5, -39.5), (-151.5, -37.0), (-154.5, -36.5), (-152.5, -34.5)]
dense_158 = [(-161.5, -36.0), (-159.5, -38.0), (-157.0, -37.0), (-158.0, -40.0), (-156.0, -42.5),
             (-158.5, -43.0), (-160.0, -45.5), (-161.0, -42.5), (-163.0, -41.0), (-161.0, -39.0)]

walk = (walk_a + walk_b + walk_c + walk_d + walk_e + walk_f + walk_g + walk_h
        + walk_j + walk_l + walk_m)
dense = [dense_tr, dense_tr2, dense_tr3, dense_br, dense_lb, dense_55, dense_70, dense_88,
         dense_143, dense_125, dense_148, dense_158]

W, H = 1124, 429
fig = plt.figure(figsize=(W / 100, H / 100), dpi=100)
ax1 = fig.add_axes([33.3 / W, 1 - 378.7 / H, 513.4 / W, 368 / H])
ax2 = fig.add_axes([617.3 / W, 1 - 380 / H, 514.7 / W, 369.3 / H])


def style(ax, xt, yt):
    ax.set_xticks(xt)
    ax.set_yticks(yt)
    ax.grid(True, color='#8c8c8c', linestyle=(0, (5, 3)), linewidth=0.7)
    ax.tick_params(direction='in', length=3, width=0.6, top=True, right=True,
                   labelsize=4.3, pad=2, colors='black', labelcolor='#333333')
    for s in ax.spines.values():
        s.set_linewidth(1.1)
    ax.set_ylabel('Ordonnee', fontsize=4.5)
    ax.yaxis.set_label_coords(-21.5 / 514, 0.5)


# panel (a)
for i in range(len(vortex_x)):
    ax1.add_patch(Ellipse((vortex_x[i], vortex_y[i]), 2 * core_rx[i], 2 * core_ry[i],
                          facecolor='red', edgecolor='red', linewidth=0.8))
    for rx, ry in zip(ring_rx[i], ring_ry[i]):
        ax1.add_patch(Ellipse((vortex_x[i], vortex_y[i]), 2 * rx, 2 * ry,
                              facecolor='none', edgecolor='red', linewidth=0.8))
first = True
for p in [path_ab, path_bc, path_cd, path_de, path_af, path_fg]:
    ax1.plot([q[0] for q in p], [q[1] for q in p], color='red', linewidth=0.8,
             label='"../co2"' if first else None)
    first = False
ax1.set_xlim(-40, 70)
ax1.set_ylim(-120, 40)
style(ax1, range(-40, 71, 10), range(-120, 41, 20))

# panel (b)
for poly in dense:
    ax2.fill([q[0] for q in poly], [q[1] for q in poly], color='red', linewidth=0.6)
ax2.plot([q[0] for q in walk], [q[1] for q in walk], color='red', linewidth=0.85,
         label='"../co3"')
ax2.set_xlim(-180, 20)
ax2.set_ylim(-100, 20)
style(ax2, range(-180, 1, 20), range(-100, 21, 20))
ax2.set_xticks([20], minor=True)
ax2.grid(True, which='minor', axis='x', color='#8c8c8c', linestyle=(0, (5, 3)), linewidth=0.7)

for ax in (ax1, ax2):
    ax.legend(loc='upper right', frameon=False, fontsize=3.5, labelcolor='red',
              markerfirst=False, handlelength=3.5, borderaxespad=0.3, handletextpad=0.6)

fig.text(280 / W, 1 - 413 / H, r'$\mathrm{2.2(a)}$', fontsize=18, ha='center', va='center')
fig.text(865 / W, 1 - 413 / H, r'$\mathrm{2.2(b)}$', fontsize=18, ha='center', va='center')

fig.savefig('out.png', dpi=100)
